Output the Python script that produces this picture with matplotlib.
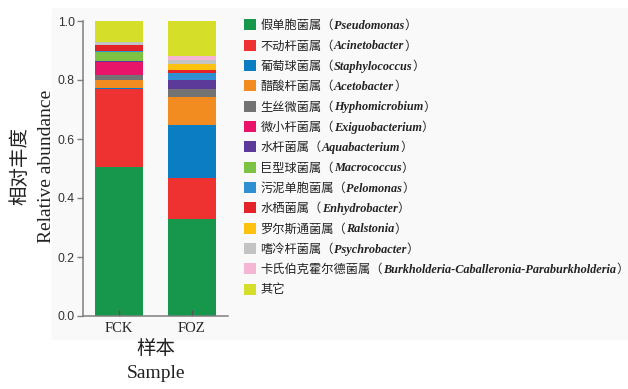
import matplotlib
matplotlib.use("Agg")
import matplotlib.pyplot as plt
from matplotlib.patches import Patch, Rectangle
from matplotlib.transforms import IdentityTransform
import numpy as np

# genus composition of the two samples (relative abundance, stacked bottom -> top)
samples = ["FCK", "FOZ"]
genus_cn = ["假单胞菌属", "不动杆菌属", "葡萄球菌属", "醋酸杆菌属", "生丝微菌属",
            "微小杆菌属", "水杆菌属", "巨型球菌属", "污泥单胞菌属", "水栖菌属",
            "罗尔斯通菌属", "嗜冷杆菌属", "卡氏伯克霍尔德菌属", "其它"]
genus_latin = ["Pseudomonas", "Acinetobacter", "Staphylococcus", "Acetobacter",
               "Hyphomicrobium", "Exiguobacterium", "Aquabacterium", "Macrococcus",
               "Pelomonas", "Enhydrobacter", "Ralstonia", "Psychrobacter",
               "Burkholderia-Caballeronia-Paraburkholderia", None]
fck_abund = [0.506, 0.263, 0.005, 0.025, 0.018, 0.043, 0.006, 0.030,
             0.003, 0.019, 0.002, 0.008, 0.002, 0.070]
foz_abund = [0.328, 0.139, 0.182, 0.092, 0.028, 0.000, 0.031, 0.000,
             0.025, 0.010, 0.018, 0.014, 0.015, 0.118]
colors = ["#17974b", "#ee3232", "#0b7dc3", "#f28c20", "#737373", "#e8146a",
          "#5b3a9a", "#7dc242", "#2f8fd0", "#e42328", "#fdc20e", "#c3c3c3",
          "#f4b6d2", "#d5df2a"]

W, H = 628, 389
fig = plt.figure(figsize=(W / 100, H / 100), dpi=100)
fig.patch.set_facecolor("white")
# faint grey panel behind the plot
fig.patches.append(Rectangle((52 / W, 1 - 339 / H), 1, (339 - 8) / H,
                             transform=fig.transFigure, color="#f9f9f9", zorder=-5))

ax = fig.add_axes([83 / W, 1 - 316 / H, 145 / W, 295 / H])
ax.set_facecolor("none")
ax.set_zorder(2)

x = np.arange(len(samples))
abund = np.array([fck_abund, foz_abund])
bottom = np.zeros(len(samples))
for i, c in enumerate(colors):
    ax.bar(x, abund[:, i], 0.66, bottom=bottom, color=c, linewidth=0)
    bottom += abund[:, i]

ax.set_xlim(-0.5, 1.5)
ax.set_ylim(0, 1.0)
ax.set_yticks([0, 0.2, 0.4, 0.6, 0.8, 1.0])
ax.set_yticklabels(["0.0", "0.2", "0.4", "0.6", "0.8", "1.0"],
                   family="Liberation Sans", fontsize=8.8, color="#333333")
ax.set_xticks(x)
ax.set_xticklabels(samples, family="Liberation Serif", fontsize=10.5, color="#222222")
for side in ["top", "right"]:
    ax.spines[side].set_visible(False)
for side in ["left", "bottom"]:
    ax.spines[side].set_color("#7f7f7f")
    ax.spines[side].set_linewidth(1.1)
ax.tick_params(axis="y", direction="out", length=4, width=1, color="#7f7f7f", pad=2)
ax.tick_params(axis="x", direction="in", length=4, width=1, color="#555555", pad=4)

# axis titles (Chinese + English lines)
fig.text(155.5 / W, 1 - 348 / H, "样本", family="Noto Sans CJK SC", fontsize=14,
         ha="center", va="center", color="#222222")
fig.text(155.5 / W, 1 - 373 / H, "Sample", family="Liberation Serif", fontsize=14,
         ha="center", va="center", color="#222222")
fig.text(20 / W, 1 - 166 / H, "相对丰度", family="Noto Sans CJK SC", fontsize=14,
         ha="center", va="center", rotation=90, color="#222222")
fig.text(47 / W, 1 - 166 / H, "Relative abundance", family="Liberation Serif",
         fontsize=14, ha="center", va="center", rotation=90, color="#222222")

# legend: Chinese name in the legend, Latin genus appended in bold italic
handles = [Patch(facecolor=c, edgecolor="none") for c in colors]
labels = [cn + "（" if lat else cn for cn, lat in zip(genus_cn, genus_latin)]
leg = fig.legend(handles, labels, loc="upper left",
                 bbox_to_anchor=(244 / W, 1 - 19 / H), frameon=False,
                 prop={"family": "Noto Sans CJK SC", "size": 8.8},
                 handlelength=1.0, handleheight=1.0, handletextpad=0.35,
                 labelspacing=0.6, borderpad=0, borderaxespad=0)

fig.canvas.draw()
renderer = fig.canvas.get_renderer()
for txt, lat in zip(leg.get_texts(), genus_latin):
    txt.set_color("#222222")
    if lat is None:
        continue
    bb = txt.get_window_extent(renderer)
    base_y = txt.get_transform().transform(txt.get_position())[1]
    t2 = fig.text(bb.x1, base_y, lat, transform=IdentityTransform(),
                  family="Liberation Serif", style="italic", weight="bold",
                  fontsize=8.8, va="baseline", ha="left", color="#222222")
    bb2 = t2.get_window_extent(renderer)
    fig.text(bb2.x1, base_y, "）", transform=IdentityTransform(),
             family="Noto Sans CJK SC", fontsize=8.8, va="baseline", ha="left",
             color="#222222")

fig.savefig("out.png", dpi=100)
